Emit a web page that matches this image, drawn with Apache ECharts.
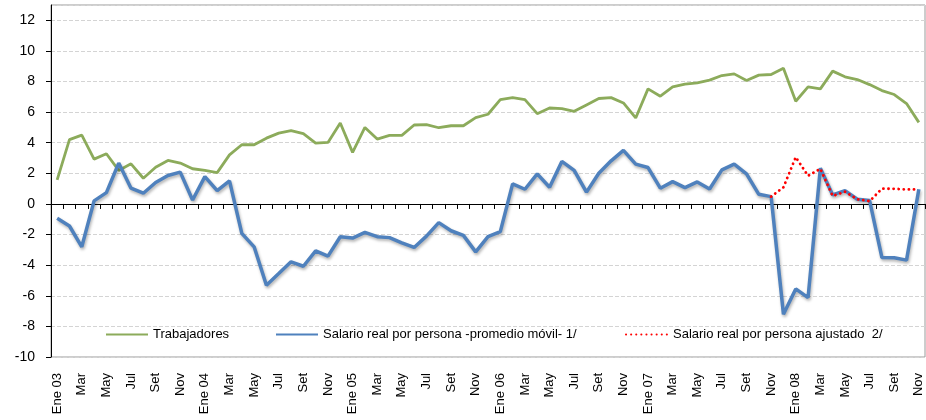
<!DOCTYPE html>
<html>
<head>
<meta charset="utf-8">
<script src="https://cdn.jsdelivr.net/npm/echarts@6/dist/echarts.min.js"></script>
<style>
  html, body { margin: 0; padding: 0; background: #fff; }
  #chart { width: 926px; height: 420px; }
</style>
</head>
<body>
<div id="chart"></div>
<script>
  // meses y años del eje x
  var meses = ['Ene', 'Feb', 'Mar', 'Abr', 'May', 'Jun', 'Jul', 'Ago', 'Set', 'Oct', 'Nov', 'Dic']
  var anios = ['03', '04', '05', '06', '07', '08']
  var ultimoMes = 'Nov 08'

  // series (variación %)
  var trabajadores = [1.57, 4.2, 4.5, 2.93, 3.28, 2.19, 2.62, 1.68, 2.4, 2.84,
    2.67, 2.3, 2.19, 2.05, 3.21, 3.87, 3.87, 4.3, 4.63, 4.79,
    4.59, 3.98, 4.02, 5.29, 3.37, 5.0, 4.24, 4.48, 4.48, 5.16,
    5.18, 4.98, 5.11, 5.11, 5.64, 5.86, 6.82, 6.95, 6.82, 5.9,
    6.27, 6.23, 6.05, 6.47, 6.89, 6.95, 6.6, 5.62, 7.52, 7.04,
    7.65, 7.83, 7.91, 8.09, 8.39, 8.5, 8.07, 8.42, 8.46, 8.87,
    6.71, 7.65, 7.52, 8.68, 8.31, 8.13, 7.8, 7.41, 7.15, 6.56, 5.33]

  var salarioMovil = [-0.94, -1.44, -2.8, 0.2, 0.74, 2.67, 1.03, 0.7, 1.4, 1.86,
    2.08, 0.26, 1.79, 0.87, 1.51, -1.92, -2.8, -5.31, -4.55, -3.78,
    -4.07, -3.06, -3.41, -2.14, -2.23, -1.86, -2.14, -2.2, -2.54, -2.84,
    -2.1, -1.22, -1.75, -2.05, -3.13, -2.14, -1.81, 1.31, 0.96, 1.97,
    1.09, 2.78, 2.19, 0.77, 2.01, 2.82, 3.5, 2.6, 2.38, 1.03,
    1.46, 1.07, 1.44, 0.98, 2.23, 2.6, 1.97, 0.63, 0.48, -7.21,
    -5.55, -6.12, 2.34, 0.59, 0.87, 0.31, 0.22, -3.5, -3.52, -3.67, 0.96]

  // ajustado: desde Nov 07
  var ajustadoDesde = 'Nov 07'
  var salarioAjustado = [0.48, 1.09, 3.06, 1.84, 2.3, 0.52, 0.8, 0.31, 0.18, 1.0, 0.99, 0.95, 0.95]

  var nombres = ['Trabajadores', 'Salario real por persona -promedio móvil- 1/', 'Salario real por persona ajustado  2/']
  var yTicks = { min: -10, max: 13, interval: 2 }

  var categorias = []
  var etiquetasFull = []
  anios.forEach(function (a) {
    meses.forEach(function (m, i) {
      categorias.push(i === 0 ? m + ' ' + a : m)
      etiquetasFull.push(m + ' ' + a)
    })
  })
  var nCat = etiquetasFull.indexOf(ultimoMes) + 1
  categorias = categorias.slice(0, nCat)

  var inicioAj = etiquetasFull.indexOf(ajustadoDesde)
  var ajustadoData = categorias.map(function (c, i) {
    return i >= inicioAj ? salarioAjustado[i - inicioAj] : null
  })

  var fuente = 'Liberation Sans'
  // una leyenda por serie, colocadas como en el original
  var leyendaX = [105, 275, 625]
  var leyendas = nombres.map(function (n, i) {
    return {
      left: leyendaX[i], top: 328, padding: 0,
      itemWidth: 42, itemHeight: 10,
      textStyle: { fontFamily: fuente, fontSize: 13, color: '#000' },
      itemStyle: { opacity: 0 },
      lineStyle: { width: 2 },
      data: [n]
    }
  })

  var myChart = echarts.init(document.getElementById('chart'))
  myChart.setOption({
    animation: false,
    grid: {
      left: 51, right: 1, top: 5, bottom: 63,
      show: true, borderColor: '#9a9a9a', borderWidth: 1
    },
    legend: leyendas,
    xAxis: [
      {
        type: 'category',
        data: categorias,
        boundaryGap: true,
        axisLine: { onZero: true, lineStyle: { color: '#000', width: 1 } },
        axisTick: { show: true, interval: 0, length: 5, lineStyle: { color: '#000' } },
        axisLabel: { show: false },
        splitLine: { show: false }
      },
      {
        type: 'category',
        data: categorias,
        boundaryGap: true,
        position: 'bottom',
        axisLine: { show: false, onZero: false },
        axisTick: { show: false },
        axisLabel: {
          interval: 1, rotate: 90, margin: 16,
          fontFamily: fuente, fontSize: 13, color: '#000'
        },
        splitLine: { show: false }
      }
    ],
    yAxis: {
      type: 'value',
      min: yTicks.min, max: yTicks.max, interval: yTicks.interval,
      axisLine: { show: true, lineStyle: { color: '#000' } },
      axisTick: { show: true, length: 5, lineStyle: { color: '#000' } },
      axisLabel: { showMaxLabel: false, margin: 16, fontFamily: fuente, fontSize: 14, color: '#000' },
      splitLine: { show: true, lineStyle: { color: '#d4d4d4', type: [4, 2], width: 1 } }
    },
    series: [
      {
        name: nombres[0],
        type: 'line',
        data: trabajadores,
        symbol: 'none',
        color: '#8cab5b',
        lineStyle: { width: 2.8, color: '#8cab5b' }
      },
      {
        name: nombres[1],
        type: 'line',
        data: salarioMovil,
        symbol: 'none',
        color: '#4f81bd',
        lineStyle: {
          width: 3.5, color: '#4f81bd',
          shadowColor: 'rgba(0,0,0,0.3)', shadowBlur: 3, shadowOffsetX: 1, shadowOffsetY: 2
        }
      },
      {
        name: nombres[2],
        type: 'line',
        data: ajustadoData,
        symbol: 'none',
        color: '#ff0000',
        lineStyle: { width: 2.8, color: '#ff0000', type: [0.1, 5], cap: 'round' }
      }
    ]
  })
</script>
</body>
</html>
